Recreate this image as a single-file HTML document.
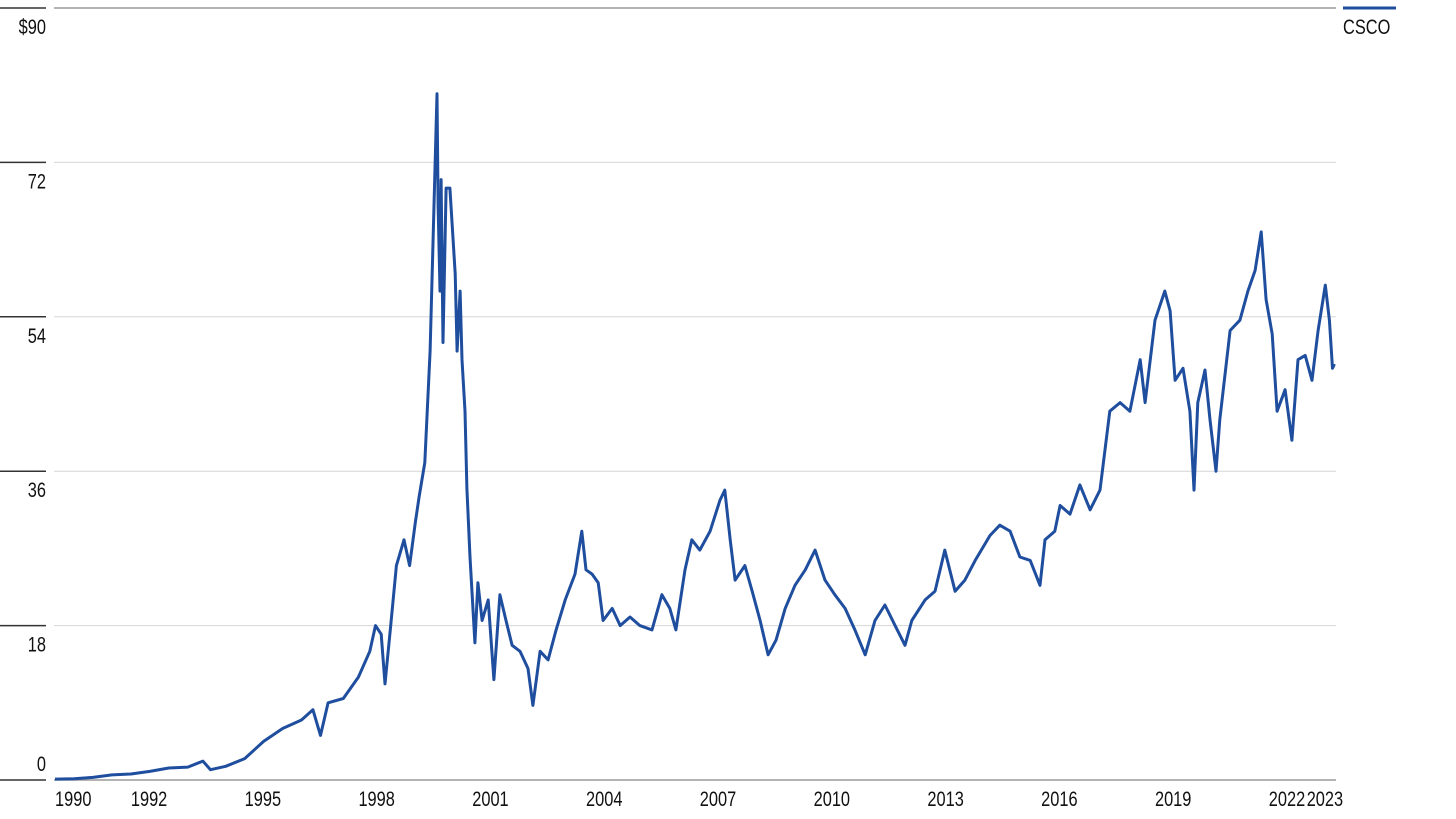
<!DOCTYPE html>
<html><head><meta charset="utf-8">
<style>
html,body{margin:0;padding:0;background:#fff;}
svg{display:block;}
text{font-family:"Liberation Sans",sans-serif;font-size:21px;fill:#111;}
</style></head>
<body>
<svg id="chart" width="1456" height="819" viewBox="0 0 1456 819" xmlns="http://www.w3.org/2000/svg">
<g id="grid"></g>
<g id="yaxis"></g>
<g id="xaxis"></g>
<path id="line" fill="none" stroke="#1f4e9e" stroke-width="3" stroke-linejoin="round"/>
<g>
<line x1="1343" y1="8" x2="1396" y2="8" stroke="#1f4e9e" stroke-width="3"/>
<text transform="translate(1343,34) scale(0.78,1)">CSCO</text>
</g>
</svg>
<script>
const yTicks=[0,18,36,54,72,90];
const yTickLabels=["0","18","36","54","72","$90"];
const xTickYears=[1990,1992,1995,1998,2001,2004,2007,2010,2013,2016,2019,2022,2023];
const dates=[1990.0,1990.5,1991.0,1991.5,1992.0,1992.5,1993.0,1993.5,1993.9,1994.1,1994.5,1995.0,1995.5,1996.0,1996.5,1996.8,1997.0,1997.2,1997.6,1998.0,1998.3,1998.45,1998.6,1998.7,1998.85,1999.0,1999.2,1999.35,1999.5,1999.6,1999.75,1999.89,2000.07,2000.10,2000.15,2000.18,2000.23,2000.31,2000.41,2000.55,2000.60,2000.68,2000.73,2000.81,2000.86,2000.94,2001.07,2001.15,2001.26,2001.42,2001.57,2001.73,2001.89,2002.05,2002.26,2002.47,2002.60,2002.79,2003.00,2003.21,2003.45,2003.71,2003.89,2004.0,2004.16,2004.32,2004.45,2004.69,2004.90,2005.16,2005.42,2005.74,2006.0,2006.21,2006.37,2006.61,2006.79,2007.0,2007.27,2007.53,2007.66,2007.80,2007.93,2008.19,2008.38,2008.59,2008.80,2009.01,2009.25,2009.51,2009.78,2010.04,2010.30,2010.56,2010.83,2011.09,2011.36,2011.62,2011.88,2012.15,2012.41,2012.59,2012.94,2013.20,2013.46,2013.73,2013.99,2014.26,2014.65,2014.91,2015.18,2015.44,2015.71,2015.97,2016.10,2016.36,2016.50,2016.76,2017.02,2017.29,2017.55,2017.81,2018.08,2018.34,2018.61,2018.74,2019.0,2019.26,2019.40,2019.53,2019.74,2019.92,2020.03,2020.13,2020.32,2020.45,2020.61,2020.71,2020.98,2021.24,2021.45,2021.64,2021.80,2021.93,2022.09,2022.22,2022.43,2022.61,2022.77,2022.96,2023.14,2023.30,2023.49,2023.60,2023.68,2023.73];
const prices=[0.1,0.15,0.3,0.6,0.7,1.0,1.4,1.5,2.2,1.2,1.6,2.5,4.5,6.0,7.0,8.2,5.2,9.0,9.5,12,15,18,17,11.2,18,25,28,25,30,33,37,50,80,67,57,70,51,69,69,59,50,57,49,43,34,26,16,23,18.6,21,11.7,21.6,18.6,15.7,15,13,8.7,15,14,17.5,21,24,29,24.5,24,23,18.6,20,18,19,18,17.5,21.6,20,17.5,24.5,28,26.8,29,32.6,33.8,28,23.3,25,22,18.6,14.6,16.3,20,22.7,24.5,26.8,23.3,21.6,20,17.5,14.6,18.6,20.4,18,15.7,18.6,21,22,26.8,22,23.3,25.6,28.5,29.7,29,26,25.6,22.7,28,29,32,31,34.4,31.5,33.8,43,44,43,49,44,53.6,57,54.7,46.6,48,43,33.8,44,47.8,42,36,42,52.4,53.6,57,59.4,63.9,56,52,43,45.5,39.6,49,49.5,46.6,52.4,57.7,53.6,48,48.5];
const X0=55,PX_PER_YEAR=37.93,Y0=780,PX_PER_UNIT=772/90;
const xs=yr=>X0+(yr-1990)*PX_PER_YEAR;
const ys=v=>Y0-v*PX_PER_UNIT;
const NS="http://www.w3.org/2000/svg";
const grid=document.getElementById('grid'),yax=document.getElementById('yaxis'),xax=document.getElementById('xaxis');
yTicks.forEach((t,i)=>{
  const y=ys(t);
  const g=document.createElementNS(NS,'line');
  
  
  g.setAttribute('x1',54);g.setAttribute('x2',1336);g.setAttribute('y1',y);g.setAttribute('y2',y);
  g.setAttribute('stroke',t===0||t===90?'#9a9a9a':'#d6d6d6');g.setAttribute('stroke-width',t===0||t===90?1.5:1);
  grid.appendChild(g);
  const tk=document.createElementNS(NS,'line');
  
  
  tk.setAttribute('x1',0);tk.setAttribute('x2',46);tk.setAttribute('y1',y);tk.setAttribute('y2',y);
  tk.setAttribute('stroke','#333');tk.setAttribute('stroke-width',1.5);
  yax.appendChild(tk);
  const tx=document.createElementNS(NS,'text');
  
  
  const ly=(i===0)?y-9:y+26;
  tx.setAttribute('transform','translate(46,'+ly+') scale(0.78,1)');
  tx.setAttribute('text-anchor','end');
  tx.textContent=yTickLabels[i];
  yax.appendChild(tx);
});
xTickYears.forEach(yr=>{
  const tx=document.createElementNS(NS,'text');
  
  
  tx.setAttribute('transform','translate('+xs(yr)+',806) scale(0.78,1)');
  tx.textContent=yr;
  xax.appendChild(tx);
});
let d='';
dates.forEach((yr,i)=>{d+=(i?'L':'M')+xs(yr).toFixed(1)+' '+ys(prices[i]).toFixed(1);});
document.getElementById('line').setAttribute('d',d);
</script>
</body></html>
